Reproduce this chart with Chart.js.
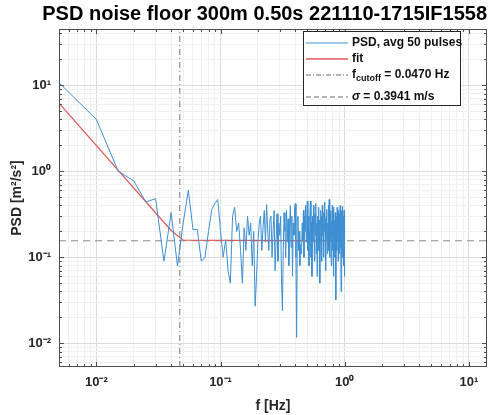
<!DOCTYPE html>
<html>
<head>
<meta charset="utf-8">
<script src="https://cdn.jsdelivr.net/npm/chart.js@4"></script>
<style>
  body { margin: 0; background: #fff; }
  #wrap { position: relative; width: 490px; height: 415px; }
  #legend { position: absolute; left: 303px; top: 31px; width: 156px; height: 73px;
    border: 1px solid #262626; background: #fff;
    font: bold 12px "Liberation Sans", Arial, sans-serif; color: #111; }
  #legend .row { position: absolute; left: 2px; height: 14px; white-space: nowrap; }
  #legend svg { vertical-align: middle; margin-right: 4px; }
  #legend sub { font-size: 9px; }
</style>
</head>
<body>
<div id="wrap">
  <canvas id="chart-area" width="490" height="415"></canvas>
  <div id="legend">
    <div class="row" style="top:3px"><svg width="42" height="6"><line x1="0" y1="3" x2="42" y2="3" stroke="#3d8fd1" stroke-width="1"/></svg>PSD, avg 50 pulses</div>
    <div class="row" style="top:19px"><svg width="42" height="6"><line x1="0" y1="3" x2="42" y2="3" stroke="#e05a5a" stroke-width="1.3"/></svg>fit</div>
    <div class="row" style="top:35px"><svg width="42" height="6"><line x1="0" y1="3" x2="42" y2="3" stroke="#666" stroke-width="1" stroke-dasharray="5,2,1,2"/></svg>f<sub>cutoff</sub> = 0.0470 Hz</div>
    <div class="row" style="top:57px"><svg width="42" height="6"><line x1="0" y1="3" x2="42" y2="3" stroke="#666" stroke-width="1" stroke-dasharray="5,3"/></svg><i>σ</i> = 0.3941 m/s</div>
  </div>
</div>
<script>
/*
 * 数据：频率间隔 0.005 Hz，PSD 数值从图上读取。
 */
var df = 0.005;
var psd = [
  10.7, 4.0, 1.0, 0.77, 0.44, 0.48, 0.09, 0.33, 0.079, 0.25,
  0.60, 0.21, 0.21, 0.09, 0.10, 0.2, 0.36, 0.42, 0.47, 0.2,
  0.10, 0.16, 0.07, 0.05, 0.3, 0.38, 0.2, 0.25, 0.12, 0.05,
  0.22, 0.12, 0.3, 0.18, 0.25, 0.08, 0.2, 0.027, 0.06, 0.15,
  0.25, 0.3, 0.12, 0.22, 0.35, 0.15, 0.41, 0.2, 0.12, 0.28,
  0.3, 0.1, 0.2, 0.35, 0.07, 0.15, 0.32, 0.09, 0.25, 0.18,
  0.3, 0.05, 0.024, 0.12, 0.33, 0.2, 0.1, 0.35, 0.15, 0.28,
  0.08, 0.22, 0.4, 0.13, 0.3, 0.06, 0.25, 0.18, 0.38, 0.42,
  0.1, 0.0117, 0.15, 0.3, 0.12, 0.2, 0.08, 0.14, 0.11, 0.13,
  0.25, 0.16, 0.35, 0.1, 0.3, 0.2, 0.4, 0.15, 0.28, 0.45,
  0.12, 0.3, 0.08, 0.2, 0.35, 0.45, 0.1, 0.25, 0.06, 0.3,
  0.15, 0.4, 0.2, 0.09, 0.32, 0.18, 0.42, 0.11, 0.25, 0.06,
  0.3, 0.2, 0.38, 0.12, 0.27, 0.05, 0.22, 0.35, 0.14, 0.3,
  0.09, 0.4, 0.18, 0.25, 0.1, 0.33, 0.2, 0.44, 0.13, 0.28,
  0.07, 0.3, 0.16, 0.36, 0.11, 0.25, 0.19, 0.4, 0.12, 0.47,
  0.2, 0.1, 0.3, 0.15, 0.35, 0.08, 0.26, 0.18, 0.4, 0.12,
  0.3, 0.06, 0.22, 0.38, 0.14, 0.27, 0.1, 0.33, 0.05, 0.032,
  0.2, 0.3, 0.12, 0.38, 0.16, 0.25, 0.09, 0.35, 0.2, 0.28,
  0.11, 0.32, 0.17, 0.4, 0.13, 0.26, 0.04, 0.3, 0.18, 0.35,
  0.1, 0.27, 0.39, 0.15, 0.3, 0.08, 0.22, 0.35, 0.06, 0.14
];
// 拟合线：幂律段 + 平坦段
var fitFreq = [0.005, 0.04, 0.05, 1.0];
var fitVal = [6.2, 0.205, 0.158, 0.155];
var fCutoff = 0.047;
var sigma2 = 0.1553;
// 坐标范围
var xMin = 0.005, xMax = 14;
var yMin = 0.0053, yMax = 45;

var psdPts = psd.map(function (v, i) { return { x: (i + 1) * df, y: v }; });
var fitPts = fitFreq.map(function (f, i) { return { x: f, y: fitVal[i] }; });

var font = "'Liberation Sans', Arial, sans-serif";
var sup = { "-": "⁻", "0": "⁰", "1": "¹", "2": "²" };
function logLabel(v) {
  var e = Math.round(Math.log10(v));
  if (Math.abs(Math.log10(v) - e) > 1e-6) return "";
  return "10" + String(e).split("").map(function (c) { return sup[c]; }).join("");
}
function allLogTicks(scale) {
  var t = [];
  for (var e = -3; e <= 2; e++) {
    for (var m = 1; m <= 9; m++) {
      var v = m * Math.pow(10, e);
      if (v >= scale.min * 0.9999 && v <= scale.max * 1.0001) t.push({ value: v });
    }
  }
  scale.ticks = t;
}
function gridColor(ctx) {
  if (!ctx.tick) return "#e6e6e6";
  return logLabel(ctx.tick.value) ? "#dcdcdc" : "#f0f0f0";
}

// 画外框和朝内的刻度线（MATLAB 风格）
var boxPlugin = {
  id: "box",
  afterDatasetsDraw: function (chart) {
    var a = chart.chartArea, c = chart.ctx;
    c.save();
    c.strokeStyle = "#4d4d4d";
    c.lineWidth = 1;
    c.strokeRect(a.left + 0.5, a.top + 0.5, a.right - a.left - 1, a.bottom - a.top - 1);
    c.beginPath();
    chart.scales.x.ticks.forEach(function (t) {
      var px = Math.round(chart.scales.x.getPixelForValue(t.value)) + 0.5;
      var len = logLabel(t.value) ? 5 : 3;
      c.moveTo(px, a.bottom); c.lineTo(px, a.bottom - len);
      c.moveTo(px, a.top); c.lineTo(px, a.top + len);
    });
    chart.scales.y.ticks.forEach(function (t) {
      var py = Math.round(chart.scales.y.getPixelForValue(t.value)) + 0.5;
      var len = logLabel(t.value) ? 5 : 3;
      c.moveTo(a.left, py); c.lineTo(a.left + len, py);
      c.moveTo(a.right, py); c.lineTo(a.right - len, py);
    });
    c.stroke();
    c.restore();
  }
};

var config = {
  type: "scatter",
  data: {
    datasets: [
      { label: "PSD, avg 50 pulses", data: psdPts, showLine: true, borderColor: "#3d8fd1",
        borderWidth: 1, pointRadius: 0, tension: 0 },
      { label: "fit", data: fitPts, showLine: true, borderColor: "#e05a5a",
        borderWidth: 1.3, pointRadius: 0 },
      { label: "cutoff", data: [{ x: fCutoff, y: yMin }, { x: fCutoff, y: yMax }], showLine: true,
        borderColor: "#777", borderWidth: 1, borderDash: [6, 3, 1, 3], pointRadius: 0 },
      { label: "sigma", data: [{ x: xMin, y: sigma2 }, { x: xMax, y: sigma2 }], showLine: true,
        borderColor: "#888", borderWidth: 1, borderDash: [7, 5], pointRadius: 0 }
    ]
  },
  options: {
    responsive: false,
    animation: false,
    layout: { padding: { left: 9, right: 3, top: 0, bottom: 0 } },
    plugins: {
      legend: { display: false },
      tooltip: { enabled: false },
      title: {
        display: true,
        align: "end",
        text: "PSD noise floor 300m 0.50s 221110-1715IF1558",
        color: "#000",
        font: { family: font, size: 20, weight: "bold" },
        padding: { top: 2, bottom: 3 }
      }
    },
    scales: {
      x: {
        type: "logarithmic", min: xMin, max: xMax,
        afterBuildTicks: allLogTicks,
        afterFit: function (s) { s.height = 48; },
        grid: { color: gridColor, drawTicks: false },
        border: { display: false },
        ticks: { autoSkip: false, maxRotation: 0, padding: 8, color: "#262626",
          font: { family: font, size: 13, weight: "bold" }, callback: logLabel },
        title: { display: true, text: "f [Hz]", color: "#262626", padding: 0,
          font: { family: font, size: 14, weight: "bold" } }
      },
      y: {
        type: "logarithmic", min: yMin, max: yMax,
        afterBuildTicks: allLogTicks,
        afterFit: function (s) { s.width = 50; },
        grid: { color: gridColor, drawTicks: false },
        border: { display: false },
        ticks: { autoSkip: false, padding: 8, color: "#262626",
          font: { family: font, size: 13, weight: "bold" }, callback: logLabel },
        title: { display: true, text: "PSD [m²/s²]", color: "#262626", padding: 0,
          font: { family: font, size: 14, weight: "bold" } }
      }
    }
  },
  plugins: [boxPlugin]
};

window.onload = function () {
  var ctx = document.getElementById("chart-area").getContext("2d");
  window.myChart = new Chart(ctx, config);
};
</script>
</body>
</html>
